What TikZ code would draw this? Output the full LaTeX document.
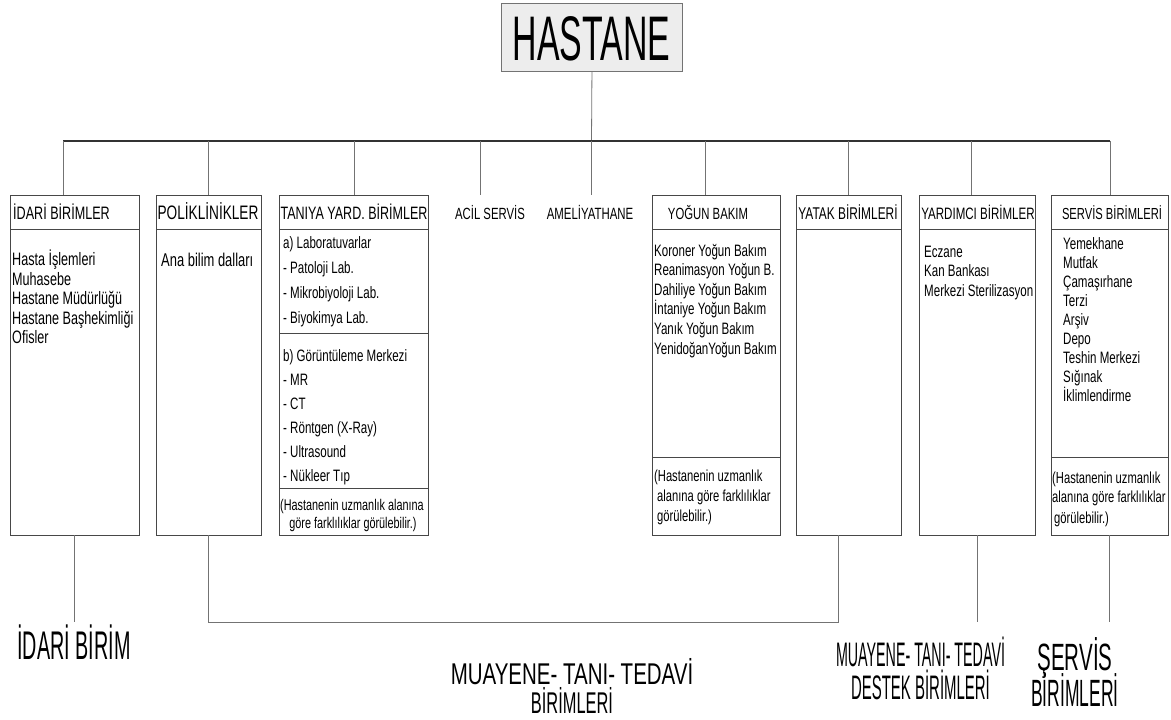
\documentclass[tikz,border=0pt]{standalone}
\usepackage{fontspec}
\usepackage{graphicx}
\setmainfont{Liberation Sans}
\newfontfamily\nar[FakeStretch=0.7]{Liberation Sans}
\newcommand{\hd}[2]{{\nar\fontsize{#1}{#1}\selectfont #2}}
\newcommand{\sq}[3]{{\fontsize{#1}{#1}\selectfont\scalebox{#2}[1]{#3}}}
\begin{document}
\begin{tikzpicture}[x=1pt,y=-1pt,
  box/.style={draw=black!72, line width=1pt, inner sep=0pt, outer sep=0pt, anchor=north west},
  conn/.style={draw=black!55, line width=0.8pt},
  bus/.style={draw=black!80, line width=1.6pt},
  sep/.style={draw=black!72, line width=1pt},
  item/.style={anchor=base west, inner sep=0pt, font=\nar\fontsize{16.5}{18}\selectfont},
  itembig/.style={anchor=base west, inner sep=0pt, font=\nar\fontsize{18}{20}\selectfont},
  note/.style={anchor=base west, inner sep=0pt, font=\nar\fontsize{16}{18}\selectfont},
  head/.style={anchor=base, inner sep=0pt},
  lbl/.style={anchor=base, inner sep=0pt}
]
\useasboundingbox (0,0) rectangle (1171,720);

% top box
\node[draw=black!55, fill=black!7, line width=0.9pt, minimum width=181pt, minimum height=68pt, inner sep=0pt, anchor=north west] (hastane) at (501,3) {};
\node[lbl] (hastanetxt) at (591.5,60) {\sq{63}{0.538}{HASTANE}};

% bus
\coordinate (b1) at (63,141);
\coordinate (b2) at (208,141);
\coordinate (b3) at (354,141);
\coordinate (b4) at (480,141);
\coordinate (b5) at (591.5,141);
\coordinate (b6) at (705,141);
\coordinate (b7) at (848,141);
\coordinate (b8) at (971,141);
\coordinate (b9) at (1110,141);
\draw[conn] (hastane.south) -- (b5);
\draw[bus] (b1) -- (b9);

% boxes
\node[box, minimum width=129pt, minimum height=340pt] (idari) at (10,195) {};
\node[box, minimum width=105pt, minimum height=340pt] (poli) at (156,195) {};
\node[box, minimum width=149pt, minimum height=340pt] (taniya) at (279,195) {};
\node[box, minimum width=128pt, minimum height=340pt] (yogun) at (652,195) {};
\node[box, minimum width=105pt, minimum height=340pt] (yatak) at (796,195) {};
\node[box, minimum width=116pt, minimum height=340pt] (yardimci) at (919,195) {};
\node[box, minimum width=117pt, minimum height=340pt] (servis) at (1051,195) {};

% header dividers
\coordinate (hy) at (0,229);
\foreach \b in {idari,poli,taniya,yogun,yatak,yardimci,servis}
  \draw[sep] (\b.west |- hy) -- (\b.east |- hy);
\coordinate (ty1) at (0,333);
\coordinate (ty2) at (0,488);
\coordinate (yy) at (0,457);
\draw[sep] (taniya.west |- ty1) -- (taniya.east |- ty1);
\draw[sep] (taniya.west |- ty2) -- (taniya.east |- ty2);
\draw[sep] (yogun.west |- yy) -- (yogun.east |- yy);
\draw[sep] (servis.west |- yy) -- (servis.east |- yy);

% headers
\node[anchor=base west, inner sep=0pt] (h1) at (13,219) {\hd{18}{İDARİ BİRİMLER}};
\node[head] (h2) at (208,219) {\hd{19.5}{POLİKLİNİKLER}};
\node[head] (h3) at (354,219) {\hd{17.9}{TANIYA YARD. BİRİMLER}};
\node[head] (h6) at (708,219) {\hd{16.2}{YOĞUN BAKIM}};
\node[head] (h7) at (848,219) {\hd{17}{YATAK BİRİMLERİ}};
\node[head] (h8) at (978,219) {\hd{16.5}{YARDIMCI BİRİMLER}};
\node[head] (h9) at (1112,219) {\hd{16}{SERVİS BİRİMLERİ}};
\node[head] (acil) at (490,219) {\hd{16.2}{ACİL SERVİS}};
\node[head] (ameli) at (590,219) {\hd{16.3}{AMELİYATHANE}};

% drops
\coordinate (topy) at (0,195);
\foreach \c/\t in {b1/idari,b2/poli,b3/taniya,b6/yogun,b7/yatak,b8/yardimci,b9/servis}
  \draw[conn] (\c) -- (\c |- \t.north);
\draw[conn] (b4) -- (b4 |- topy);
\draw[conn] (b5) -- (b5 |- topy);

% items
\foreach \t [count=\i] in {Hasta İşlemleri, Muhasebe, Hastane Müdürlüğü, Hastane Başhekimliği, Ofisler}
  \node[itembig] (id\i) at (12,{265.5+19.5*(\i-1)}) {\t};
\node[anchor=base west, inner sep=0pt, font=\nar\fontsize{18.5}{20}\selectfont] (pl1) at (161,266.5) {Ana bilim dalları};
\foreach \t [count=\i] in {a) Laboratuvarlar, - Patoloji Lab., - Mikrobiyoloji Lab., - Biyokimya Lab.}
  \node[item] (ta\i) at (283,{248+25*(\i-1)}) {\t};
\foreach \t [count=\i] in {b) Görüntüleme Merkezi, - MR, - CT, - Röntgen (X-Ray), - Ultrasound, - Nükleer Tıp}
  \node[item] (tb\i) at (283,{361+24*(\i-1)}) {\t};
\node[anchor=base west, inner sep=0pt, font=\nar\fontsize{15.5}{17}\selectfont] (tn1) at (280,510.5) {(Hastanenin uzmanlık alanına};
\node[anchor=base, inner sep=0pt, font=\nar\fontsize{15.5}{17}\selectfont] (tn2) at (353,528.5) {göre farklılıklar görülebilir.)};

\foreach \t [count=\i] in {Koroner Yoğun Bakım, Reanimasyon Yoğun B., Dahiliye Yoğun Bakım, İntaniye Yoğun Bakım, Yanık Yoğun Bakım, YenidoğanYoğun Bakım}
  \node[item] (yo\i) at (654,{256+19.6*(\i-1)}) {\t};
\node[note] (yn1) at (654,481) {(Hastanenin uzmanlık};
\node[note] (yn2) at (657,501) {alanına göre farklılıklar};
\node[note] (yn3) at (657,521) {görülebilir.)};

\foreach \t [count=\i] in {Eczane, Kan Bankası, Merkezi Sterilizasyon}
  \node[item] (ya\i) at (924,{257+19.5*(\i-1)}) {\t};

\foreach \t [count=\i] in {Yemekhane, Mutfak, Çamaşırhane, Terzi, Arşiv, Depo, Teshin Merkezi, Sığınak, İklimlendirme}
  \node[item] (se\i) at (1063,{249+19.1*(\i-1)}) {\t};
\node[note] (sn1) at (1052,483) {(Hastanenin uzmanlık};
\node[note] (sn2) at (1052,502) {alanına göre farklılıklar};
\node[note] (sn3) at (1054,523) {görülebilir.)};

% bottom connectors
\coordinate (ybot) at (0,622);
\coordinate (ykx) at (838,0);
\draw[conn] (idari.south) -- (idari.south |- ybot);
\draw[conn] (poli.south) |- (ykx |- ybot) -- (ykx |- yatak.south);
\draw[conn] (yardimci.south) -- (yardimci.south |- ybot);
\draw[conn] (servis.south) -- (servis.south |- ybot);

% bottom labels
\node[lbl] (l1) at (74,659) {\sq{40}{0.494}{İDARİ BİRİM}};
\node[lbl] (l2a) at (572,684) {\sq{30}{0.683}{MUAYENE- TANI- TEDAVİ}};
\node[lbl] (l2b) at (572,713) {\sq{30}{0.547}{BİRİMLERİ}};
\node[lbl] (l3a) at (920.5,666) {\sq{34}{0.42}{MUAYENE- TANI- TEDAVİ}};
\node[lbl] (l3b) at (920.5,699) {\sq{34}{0.44}{DESTEK BİRİMLERİ}};
\node[lbl] (l4a) at (1075,670) {\sq{38}{0.54}{ŞERVİS}};
\node[lbl] (l4b) at (1075,706) {\sq{38}{0.46}{BİRİMLERİ}};
\end{tikzpicture}
\end{document}
